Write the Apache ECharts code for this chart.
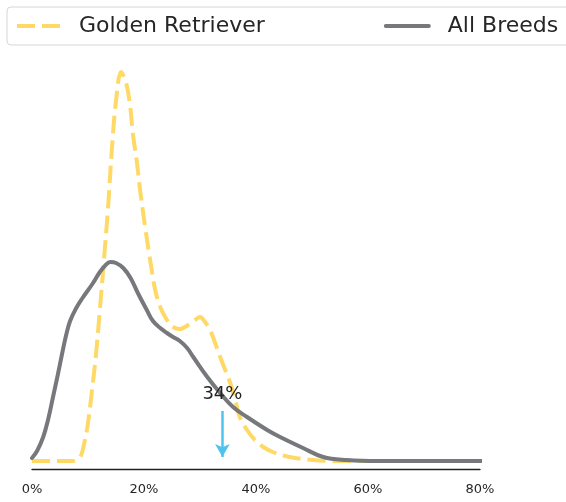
<!DOCTYPE html>
<html>
<head>
<meta charset="utf-8">
<style>
  html, body { margin: 0; padding: 0; background: #fff; }
  #chart { width: 566px; height: 502px; }
</style>
<script src="https://cdn.jsdelivr.net/npm/echarts@6/dist/echarts.min.js"></script>
</head>
<body>
<div id="chart"></div>
<script>
// x = percent, y = density
var goldenX = [0, 3, 6, 7.3, 8.6, 9.3, 10.0, 10.7, 11.4, 12.1, 12.9, 13.6, 14.3, 15.0, 15.9, 16.8, 17.5, 18.0, 18.75, 19.3, 20.2, 21.1, 22.0, 22.9, 24.1, 25.2, 26.4, 27.9, 29.1, 30.0, 30.9, 31.8, 32.7, 33.6, 34.5, 35.4, 36.3, 37.1, 38.4, 39.8, 41.3, 43.0, 46.0, 50.2, 56, 65, 75];
var goldenY = [0, 0, 0, 0, 0.04, 0.17, 0.38, 0.70, 1.05, 1.50, 2.05, 2.55, 3.15, 3.60, 3.89, 3.78, 3.56, 3.28, 2.98, 2.71, 2.34, 2.01, 1.71, 1.54, 1.41, 1.34, 1.32, 1.36, 1.41, 1.44, 1.39, 1.31, 1.18, 1.04, 0.91, 0.78, 0.61, 0.44, 0.31, 0.21, 0.14, 0.09, 0.04, 0.01, 0, 0, 0];

var allX = [0, 0.9, 2.0, 2.9, 3.75, 4.6, 5.4, 6.1, 6.8, 7.8, 8.9, 10.9, 12.0, 13.0, 14.0, 15.0, 16.3, 17.6, 18.9, 20.5, 21.6, 22.9, 24.1, 25.2, 26.4, 27.7, 28.8, 31.3, 33.6, 35.9, 38.4, 42.0, 44.3, 48.4, 52.0, 56.2, 62, 70, 80, 91.3];
var allY = [0.03, 0.10, 0.24, 0.42, 0.64, 0.86, 1.08, 1.26, 1.40, 1.52, 1.62, 1.78, 1.88, 1.95, 1.99, 1.98, 1.93, 1.83, 1.68, 1.51, 1.40, 1.33, 1.28, 1.24, 1.20, 1.13, 1.04, 0.84, 0.68, 0.54, 0.44, 0.31, 0.24, 0.13, 0.04, 0.01, 0, 0, 0, 0];

var xTicks = [0, 20, 40, 60, 80];
var markValue = 34;
var arrowFrom = 0.5, arrowTo = 0.04;

function pairs(xs, ys) {
  var out = [];
  for (var i = 0; i < xs.length; i++) out.push([xs[i], ys[i]]);
  return out;
}

var chart = echarts.init(document.getElementById('chart'));
var option = {
  animation: false,
  textStyle: { fontFamily: 'DejaVu Sans' },
  legend: {
    orient: 'horizontal',
    left: 7,
    top: 7,
    width: 620,
    padding: [8, 40, 8, 8],
    itemGap: 119,
    itemWidth: 43,
    itemHeight: 14,
    borderColor: '#d6d6d6',
    borderWidth: 1,
    borderRadius: 4,
    itemStyle: { opacity: 0 },
    lineStyle: { width: 4 },
    textStyle: { fontSize: 22, lineHeight: 22, color: '#262626', fontFamily: 'DejaVu Sans', padding: [0, 0, 0, 14] },
    data: [
      { name: 'Golden Retriever', lineStyle: { width: 4, type: [18, 7] } },
      { name: 'All Breeds', lineStyle: { width: 4, cap: 'round' } }
    ]
  },
  grid: { left: 32, right: 86, top: 61, bottom: 33 },
  xAxis: {
    type: 'value',
    min: 0,
    max: 80,
    interval: 20,
    axisLine: { onZero: false, lineStyle: { color: '#222', width: 1.3 } },
    axisTick: { show: false },
    splitLine: { show: false },
    axisLabel: {
      formatter: '{value}%',
      fontSize: 13,
      color: '#262626',
      margin: 14,
      customValues: xTicks
    }
  },
  yAxis: {
    type: 'value',
    min: -0.08,
    max: 4.0,
    show: false
  },
  series: [
    {
      name: 'Golden Retriever',
      type: 'line',
      smooth: 0.35,
      symbol: 'none',
      clip: false,
      z: 2,
      lineStyle: { color: '#ffd966', width: 4, type: [18, 7] },
      itemStyle: { color: '#ffd966' },
      data: pairs(goldenX, goldenY)
    },
    {
      name: 'All Breeds',
      type: 'line',
      smooth: 0.4,
      symbol: 'none',
      clip: false,
      z: 3,
      lineStyle: { color: '#76787c', width: 4, cap: 'round' },
      itemStyle: { color: '#76787c' },
      data: pairs(allX, allY),
      markLine: {
        silent: true,
        symbol: ['none', 'arrow'],
        symbolSize: [11, 13],
        lineStyle: { color: '#4fc3f0', width: 2.5, type: 'solid' },
        label: {
          show: true,
          position: 'start',
          formatter: markValue + '%',
          fontSize: 18,
          color: '#222',
          distance: 8
        },
        data: [[{ coord: [markValue, arrowFrom] }, { coord: [markValue, arrowTo] }]]
      }
    }
  ]
};
chart.setOption(option);
</script>
</body>
</html>
